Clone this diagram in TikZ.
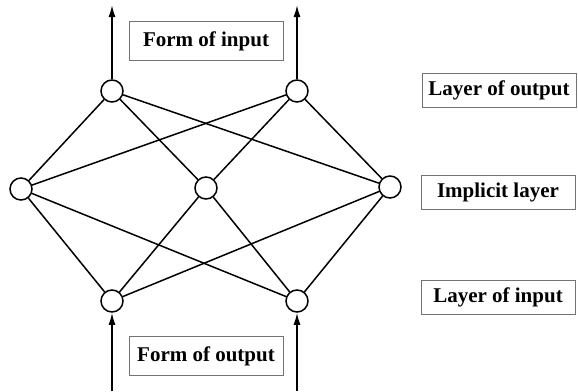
\documentclass[tikz,border=0pt]{standalone}
\usepackage{fontspec}
\setmainfont{Liberation Serif}
\usetikzlibrary{arrows.meta}

\begin{document}
\begin{tikzpicture}[
    x=1pt, y=-1pt,
    neuron/.style={draw, circle, line width=1.5pt, minimum size=22pt, inner sep=0pt, fill=white},
    lbox/.style={draw=black!55, line width=0.9pt, minimum width=154pt,
                 minimum height=34pt, inner sep=0pt, font=\fontsize{21}{23}\selectfont\bfseries},
    edge/.style={line width=1.5pt},
    arr/.style={-{Latex[length=12pt,width=7pt]}, line width=1.6pt},
  ]
    \useasboundingbox (0,0) rectangle (578,391);

    % Output layer
    \node[neuron] (out1) at (112, 91) {};
    \node[neuron] (out2) at (297, 91) {};

    % Implicit layer
    \node[neuron] (hid1) at (21, 189) {};
    \node[neuron] (hid2) at (206, 188) {};
    \node[neuron] (hid3) at (390, 187) {};

    % Input layer
    \node[neuron] (in1) at (112, 301) {};
    \node[neuron] (in2) at (297, 301) {};

    % Free ends of the arrows
    \coordinate (top1) at (112, 5);
    \coordinate (top2) at (297, 5);
    \coordinate (bot1) at (112, 391);
    \coordinate (bot2) at (297, 391);

    % Edges
    \foreach \h in {hid1, hid2, hid3} {
      \foreach \o in {out1, out2, in1, in2}
        \draw[edge] (\h) -- (\o);
    }

    % Arrows
    \draw[arr] (out1) -- (top1);
    \draw[arr] (out2) -- (top2);
    \draw[arr] (bot1) -- (in1);
    \draw[arr] (bot2) -- (in2);

    % Labels
    \node[lbox, minimum height=39pt] (forminput)  at (206, 41)  {Form of input};
    \node[lbox, minimum height=39pt] (formoutput) at (206, 356) {Form of output};
    \node[lbox] (layerout) at (499, 90)  {Layer of output};
    \node[lbox] (implicit) at (498, 192) {Implicit layer};
    \node[lbox] (layerin)  at (498, 297) {Layer of input};
  \end{tikzpicture}
\end{document}
